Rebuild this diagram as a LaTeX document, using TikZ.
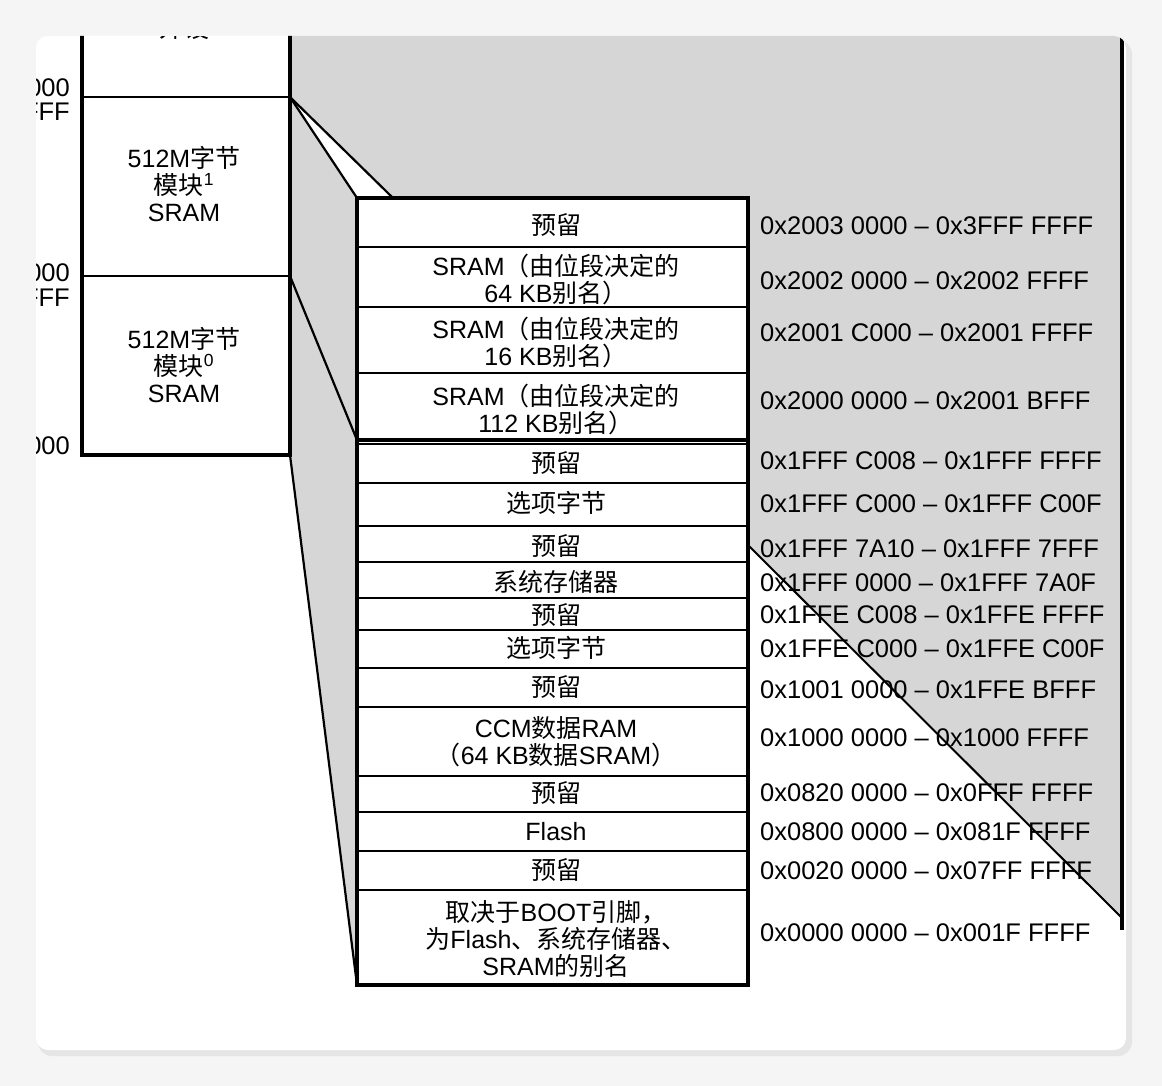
\documentclass[tikz,border=0pt]{standalone}
\usepackage{fontspec}
\setmainfont{Liberation Sans}
\newfontfamily\cjk{Noto Sans CJK SC}
\newcommand{\zh}[1]{{\cjk #1}}
\begin{document}
\begin{tikzpicture}[x=1pt,y=-1pt,
  txt/.style={font=\fontsize{25}{27}\selectfont,align=center,inner sep=0pt},
  addr/.style={font=\fontsize{25.5}{26}\selectfont,anchor=west,inner sep=0pt},
  thin/.style={line width=2.2pt},
  thick/.style={line width=4pt}]
\useasboundingbox (0,0) rectangle (1162,1086);
\fill[gray!8] (0,0) rectangle (1162,1086);
\fill[black!10,rounded corners=14pt] (38,40) rectangle (1132,1056);
\fill[white,rounded corners=12pt] (36,36) rectangle (1126,1050);
\begin{scope}
\clip[rounded corners=12pt] (36,36) rectangle (1126,1050);
% gray area
\fill[black!16] (290,20) -- (1122,20) -- (1122,918) -- (748,545) -- (357,985) -- (290,455) -- cycle;
\fill[white] (290,97) -- (357,198) -- (393,198) -- cycle;
\draw[thin] (290,97) -- (357,198);
\draw[thin] (290,97) -- (393,198);
\draw[thin] (290,276) -- (357,440);
\draw[thin] (290,455) -- (357,985);
\draw[line width=2pt] (748,545) -- (1122,918);
\draw[thick] (1122,20) -- (1122,930);
% left column
\fill[white] (82,20) rectangle (290,455);
\draw[thick] (82,20) -- (82,455) -- (290,455) -- (290,20);
\draw[thin] (82,97) -- (290,97);
\draw[thin] (82,276) -- (290,276);
\node[txt] (top) at (184,28) {\zh{外设}};
\node[txt] (b1) at (184,184) {512M\zh{字节}\\\zh{模块}\textsuperscript{1}\\SRAM};
\node[txt] (b0) at (184,365) {512M\zh{字节}\\\zh{模块}\textsuperscript{0}\\SRAM};
\node[addr,anchor=east] (l1) at (70,88) {0000};
\node[addr,anchor=east] (l2) at (70,112) {FFFF};
\node[addr,anchor=east] (l3) at (70,273) {0000};
\node[addr,anchor=east] (l4) at (70,298) {FFFF};
\node[addr,anchor=east] (l5) at (70,446) {0000};
% right box
\fill[white] (357,198) rectangle (748,985);
\foreach \y in {247,307,373,483,526,562,598,630,668,707,776,812,851,890}
  \draw[thin] (357,\y) -- (748,\y);
\draw[thick] (357,440) -- (748,440);
\draw[thin] (357,444) -- (748,444);
\draw[thick] (357,198) rectangle (748,985);
\foreach \n/\y/\t in {
  r1/225/{\zh{预留}},
  r2/279/{SRAM\zh{（由位段决定的}\\64 KB\zh{别名）}},
  r3/342/{SRAM\zh{（由位段决定的}\\16 KB\zh{别名）}},
  r4/409/{SRAM\zh{（由位段决定的}\\112 KB\zh{别名）}},
  r5/463/{\zh{预留}},
  r6/503/{\zh{选项字节}},
  r7/546/{\zh{预留}},
  r8/582/{\zh{系统存储器}},
  r9/615/{\zh{预留}},
  r10/648/{\zh{选项字节}},
  r11/687/{\zh{预留}},
  r12/742/{CCM\zh{数据}RAM\\\zh{（}64 KB\zh{数据}SRAM\zh{）}},
  r13/793/{\zh{预留}},
  r14/832/{Flash},
  r15/870/{\zh{预留}},
  r16/939/{\zh{取决于}BOOT\zh{引脚，}\\\zh{为}Flash\zh{、系统存储器、}\\SRAM\zh{的别名}}}
  \node[txt] (\n) at (556,\y) {\t};
\foreach \n/\y/\t in {
  a1/226/{0x2003 0000 -- 0x3FFF FFFF},
  a2/281/{0x2002 0000 -- 0x2002 FFFF},
  a3/333/{0x2001 C000 -- 0x2001 FFFF},
  a4/401/{0x2000 0000 -- 0x2001 BFFF},
  a5/461/{0x1FFF C008 -- 0x1FFF FFFF},
  a6/504/{0x1FFF C000 -- 0x1FFF C00F},
  a7/549/{0x1FFF 7A10 -- 0x1FFF 7FFF},
  a8/583/{0x1FFF 0000 -- 0x1FFF 7A0F},
  a9/615/{0x1FFE C008 -- 0x1FFE FFFF},
  a10/649/{0x1FFE C000 -- 0x1FFE C00F},
  a11/690/{0x1001 0000 -- 0x1FFE BFFF},
  a12/738/{0x1000 0000 -- 0x1000 FFFF},
  a13/793/{0x0820 0000 -- 0x0FFF FFFF},
  a14/832/{0x0800 0000 -- 0x081F FFFF},
  a15/871/{0x0020 0000 -- 0x07FF FFFF},
  a16/933/{0x0000 0000 -- 0x001F FFFF}}
  \node[addr] (\n) at (760,\y) {\t};
\end{scope}
\end{tikzpicture}
\end{document}
